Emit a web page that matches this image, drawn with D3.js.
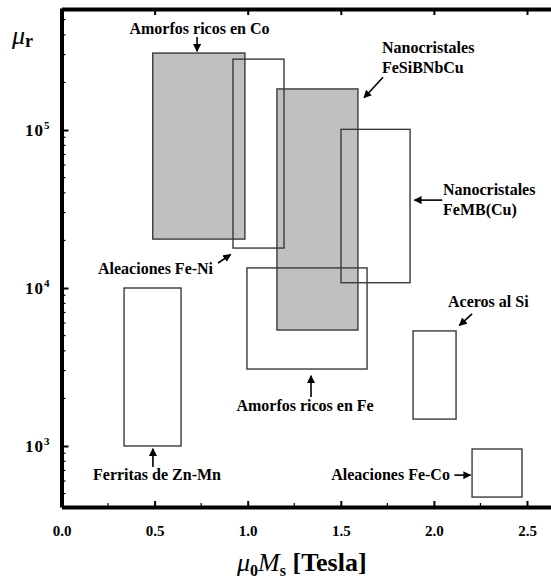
<!DOCTYPE html>
<html>
<head>
<meta charset="utf-8">
<script src="https://cdn.jsdelivr.net/npm/d3@7"></script>
<style>
  body { margin: 0; background: #fff; }
  svg { display: block; font-family: "Liberation Serif", "Times New Roman", serif; font-weight: bold; }
</style>
</head>
<body>
<svg id="chart" width="551" height="578"></svg>
<script>
// material families: saturation magnetisation range (T) and relative permeability range
const materials = ["Amorfos ricos en Co", "Aleaciones Fe-Ni", "Nanocristales FeSiBNbCu", "Nanocristales FeMB(Cu)",
                   "Amorfos ricos en Fe", "Ferritas de Zn-Mn", "Aceros al Si", "Aleaciones Fe-Co"];
const msMin = [0.49, 0.921, 1.157, 1.501, 0.996, 0.336, 1.888, 2.205];
const msMax = [0.985, 1.195, 1.592, 1.872, 1.641, 0.642, 2.119, 2.473];
const muMin = [2.04e4, 1.79e4, 5.42e3, 1.08e4, 3.07e3, 1e3, 1.48e3, 475];
const muMax = [3.07e5, 2.81e5, 1.82e5, 1.01e5, 1.34e4, 1e4, 5.35e3, 957];
const shaded = [true, false, true, false, false, false, false, false];

const xTicks = [0, 0.5, 1.0, 1.5, 2.0, 2.5];
const xMinor = [0.25, 0.75, 1.25, 1.75, 2.25];
const yTicks = [1e3, 1e4, 1e5];

const svg = d3.select("#chart");

const x = d3.scaleLinear().domain([0, 2.7]).range([61.5, 61.5 + 2.7 * 186.2]);
const y = d3.scaleLog().domain([411, 5.92e5]).range([507, 8]);

// rectangles, shaded ones first so outlines of the open ones stay visible
const order = d3.range(materials.length).sort((a, b) => shaded[b] - shaded[a]);
svg.append("g").selectAll("rect")
  .data(order)
  .join("rect")
  .attr("x", i => x(msMin[i]))
  .attr("y", i => y(muMax[i]))
  .attr("width", i => x(msMax[i]) - x(msMin[i]))
  .attr("height", i => y(muMin[i]) - y(muMax[i]))
  .attr("fill", i => shaded[i] ? "#c0c0c0" : "none")
  .attr("stroke", "#3a3a3a")
  .attr("stroke-width", 1.4);

// axes
const xBottom = d3.axisBottom(x).tickValues(xTicks).tickSizeInner(-6).tickSizeOuter(0).tickFormat(d3.format(".1f"));
const xTop = d3.axisTop(x).tickValues(xTicks).tickSizeInner(-6).tickSizeOuter(0).tickFormat("");
const yLeft = d3.axisLeft(y).tickValues(yTicks).tickSizeInner(-7).tickSizeOuter(0).tickFormat("");

const yMinor = [];
for (let e = 2; e <= 5; e++) for (let m = 2; m <= 9; m++) {
  const v = m * Math.pow(10, e);
  if (v > 411 && v < 5.92e5) yMinor.push(v);
}

const styleAxis = (g) => {
  g.select(".domain").attr("stroke", "#000").attr("stroke-width", 4);
  g.selectAll(".tick line").attr("stroke", "#000").attr("stroke-width", 2);
};

svg.append("g")
  .attr("transform", `translate(0,${y.range()[0]})`)
  .call(xBottom)
  .call(styleAxis)
  .call(g => g.selectAll(".tick text")
    .attr("y", 18).attr("dy", "0.71em")
    .attr("font-family", "Liberation Serif").attr("font-weight", "bold")
    .attr("font-size", 15).attr("fill", "#000"));

svg.append("g")
  .attr("transform", `translate(0,${y.range()[1] + 1})`)
  .call(xTop)
  .call(styleAxis);

svg.append("g")
  .attr("transform", `translate(${x(0)},0)`)
  .call(yLeft)
  .call(styleAxis);

// minor ticks
svg.append("g").selectAll("line.xm")
  .data(xMinor)
  .join("line")
  .attr("x1", d => x(d)).attr("x2", d => x(d))
  .attr("y1", y.range()[0]).attr("y2", y.range()[0] - 4)
  .attr("stroke", "#000").attr("stroke-width", 1.2);

svg.append("g").selectAll("line.ym")
  .data(yMinor)
  .join("line")
  .attr("x1", x(0)).attr("x2", x(0) + 4)
  .attr("y1", d => y(d)).attr("y2", d => y(d))
  .attr("stroke", "#000").attr("stroke-width", 1.2);

// decade labels 10^n
const yLab = svg.append("g").selectAll("text")
  .data(yTicks)
  .join("text")
  .attr("x", 25)
  .attr("y", d => y(d) + 6)
  .attr("font-size", 17)
  .attr("letter-spacing", 1);
yLab.append("tspan").text("10");
yLab.append("tspan").attr("dy", -7).attr("font-size", 11).text(d => Math.round(Math.log10(d)));

// axis titles
const xt = svg.append("text").attr("x", 237).attr("y", 571).attr("font-size", 26);
xt.append("tspan").attr("font-style", "italic").attr("font-weight", "normal").text("\u03bc");
xt.append("tspan").attr("font-size", 16).attr("dy", 5).text("0");
xt.append("tspan").attr("font-style", "italic").attr("font-weight", "normal").attr("dy", -5).text("M");
xt.append("tspan").attr("font-size", 16).attr("dy", 5).text("s");
xt.append("tspan").attr("dy", -5).text(" [Tesla]");

const yt = svg.append("text").attr("x", 12).attr("y", 44).attr("font-size", 26);
yt.append("tspan").attr("font-style", "italic").attr("font-weight", "normal").text("\u03bc");
yt.append("tspan").attr("font-size", 18).attr("dy", 3).text("r");

// annotations: text anchor and arrow in data units
const notes = [
  { lines: ["Amorfos ricos en Co"], tx: 0.741, ty: 4.05e5, anchor: "middle", a: [0.728, 3.88e5, 0.728, 3.15e5] },
  { lines: ["Nanocristales", "FeSiBNbCu"], tx: 1.721, ty: 3.07e5, anchor: "start", a: [1.727, 2.16e5, 1.625, 1.6e5] },
  { lines: ["Nanocristales", "FeMB(Cu)"], tx: 2.049, ty: 3.88e4, anchor: "start", a: [2.045, 3.6e4, 1.895, 3.6e4] },
  { lines: ["Aleaciones Fe-Ni"], tx: 0.814, ty: 1.23e4, anchor: "end", a: [0.841, 1.44e4, 0.908, 1.63e4] },
  { lines: ["Aceros al Si"], tx: 2.076, ty: 7.59e3, anchor: "start", a: [2.205, 6.85e3, 2.137, 5.8e3] },
  { lines: ["Amorfos ricos en Fe"], tx: 1.308, ty: 1.67e3, anchor: "middle", a: [1.34, 2.04e3, 1.34, 2.78e3] },
  { lines: ["Ferritas de Zn-Mn"], tx: 0.513, ty: 610, anchor: "middle", a: [0.491, 736, 0.491, 960] },
  { lines: ["Aleaciones Fe-Co"], tx: 2.086, ty: 610, anchor: "end", a: [2.11, 654, 2.197, 654] }
];

svg.append("defs").append("marker")
  .attr("id", "head")
  .attr("viewBox", "0 0 10 10")
  .attr("refX", 9).attr("refY", 5)
  .attr("markerWidth", 8).attr("markerHeight", 8)
  .attr("markerUnits", "userSpaceOnUse")
  .attr("orient", "auto")
  .append("path").attr("d", "M0,0L10,5L0,10z").attr("fill", "#000");

const ng = svg.append("g");
notes.forEach(n => {
  const t = ng.append("text")
    .attr("x", x(n.tx)).attr("y", y(n.ty))
    .attr("text-anchor", n.anchor)
    .attr("font-size", 16);
  n.lines.forEach((l, k) => t.append("tspan").attr("x", x(n.tx)).attr("dy", k ? 20 : 0).text(l));
  ng.append("line")
    .attr("x1", x(n.a[0])).attr("y1", y(n.a[1]))
    .attr("x2", x(n.a[2])).attr("y2", y(n.a[3]))
    .attr("stroke", "#000").attr("stroke-width", 1.6)
    .attr("marker-end", "url(#head)");
});
</script>
</body>
</html>
